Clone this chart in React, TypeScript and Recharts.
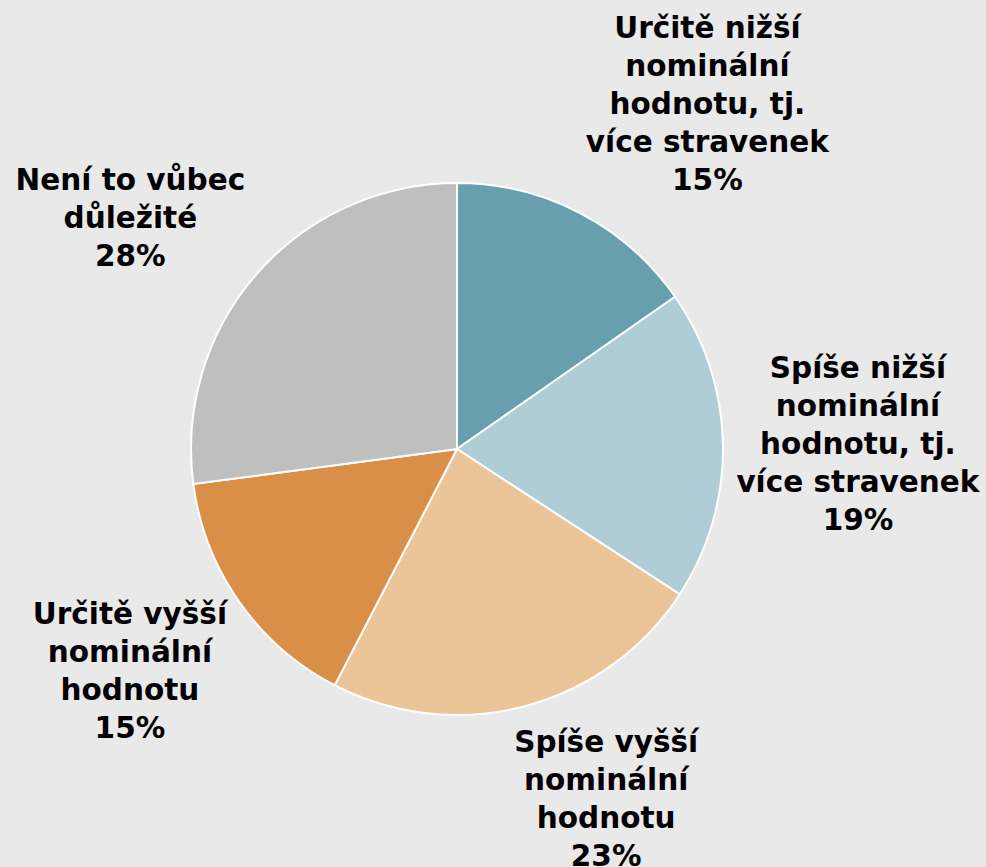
import { Cell, Pie, PieChart } from 'recharts';

// categories (line breaks as printed on the chart)
const categories = [
  'Určitě nižší\nnominální\nhodnotu, tj.\nvíce stravenek',
  'Spíše nižší\nnominální\nhodnotu, tj.\nvíce stravenek',
  'Spíše vyšší\nnominální\nhodnotu',
  'Určitě vyšší\nnominální\nhodnotu',
  'Není to vůbec\ndůležité',
];

// slice sizes
const shares = [15.3, 18.9, 23.4, 15.3, 27.1];

// percentages as printed in the labels
const printedPercents = ['15%', '19%', '23%', '15%', '28%'];

const sliceColors = ['#689FAE', '#AFCDD6', '#EBC597', '#D98F48', '#BFBFBF'];

// label nudges (px) from the default radial position
const labelNudges = [
  { dx: 65, dy: 11 },
  { dx: 0, dy: 1 },
  { dx: 47, dy: -38 },
  { dx: 1, dy: -9 },
  { dx: -25, dy: 33 },
];

const data = categories.map((name, i) => ({
  name,
  value: shares[i],
  pct: printedPercents[i],
}));

const RADIAN = Math.PI / 180;
const LINE_HEIGHT = 38;
const FONT_SIZE = 29.5;

function renderLabel(props: any) {
  const { cx, cy, midAngle, outerRadius, index } = props;
  const r = outerRadius + 135;
  const nudge = labelNudges[index];
  const x = cx + Math.cos(-midAngle * RADIAN) * r + nudge.dx;
  const y = cy + Math.sin(-midAngle * RADIAN) * r + nudge.dy;
  const lines = [...data[index].name.split('\n'), data[index].pct];
  const firstBaseline = y - ((lines.length - 1) / 2) * LINE_HEIGHT + 10;
  return (
    <text
      key={`lbl-${index}`}
      x={x}
      y={firstBaseline}
      textAnchor="middle"
      fill="#000"
      fontFamily="'DejaVu Sans', Verdana, sans-serif"
      fontWeight="bold"
      fontSize={FONT_SIZE}
    >
      {lines.map((line, i) => (
        <tspan key={i} x={x} dy={i === 0 ? 0 : LINE_HEIGHT}>
          {line}
        </tspan>
      ))}
    </text>
  );
}

export default function App() {
  return (
    <div
      style={{
        position: 'fixed',
        top: 0,
        left: 0,
        width: 986,
        height: 867,
        background: '#E9E9E9',
      }}
    >
      <PieChart width={986} height={867} margin={{ top: 0, right: 0, bottom: 0, left: 0 }}>
        <Pie
          data={data}
          dataKey="value"
          nameKey="name"
          cx={457}
          cy={449}
          outerRadius={266}
          startAngle={90}
          endAngle={-270}
          stroke="#FFFFFF"
          strokeWidth={2}
          label={renderLabel}
          labelLine={false}
          isAnimationActive={false}
        >
          {data.map((d, i) => (
            <Cell key={d.name} fill={sliceColors[i]} />
          ))}
        </Pie>
      </PieChart>
    </div>
  );
}
